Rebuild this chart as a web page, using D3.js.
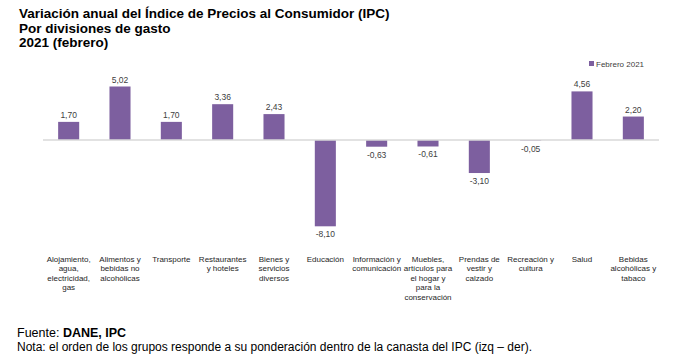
<!DOCTYPE html>
<html>
<head>
<meta charset="utf-8">
<script src="https://cdn.jsdelivr.net/npm/d3@7"></script>
<style>
body { margin: 0; background: #fff; }
text { font-family: "Liberation Sans", Arial, sans-serif; }
</style>
</head>
<body>
<svg id="chart" width="689" height="363"></svg>
<script>
// datos
var categories = [
  ["Alojamiento,", "agua,", "electricidad,", "gas"],
  ["Alimentos y", "bebidas no", "alcohólicas"],
  ["Transporte"],
  ["Restaurantes", "y hoteles"],
  ["Bienes y", "servicios", "diversos"],
  ["Educación"],
  ["Información y", "comunicación"],
  ["Muebles,", "artículos para", "el hogar y", "para la", "conservación"],
  ["Prendas de", "vestir y", "calzado"],
  ["Recreación y", "cultura"],
  ["Salud"],
  ["Bebidas", "alcohólicas y", "tabaco"]
];
var values = [1.70, 5.02, 1.70, 3.36, 2.43, -8.10, -0.63, -0.61, -3.10, -0.05, 4.56, 2.20];
var seriesName = "Febrero 2021";
var titleLines = ["Variación anual del Índice de Precios al Consumidor (IPC)", "Por divisiones de gasto", "2021 (febrero)"];

var color = "#7D5F9F";
var svg = d3.select("#chart");
var fmt = function(v) { return d3.format(".2f")(v).replace(".", ",").replace("\u2212", "-"); };

// titulo
svg.append("g").selectAll("text")
  .data(titleLines)
  .enter().append("text")
  .attr("x", 19)
  .attr("y", function(d, i) { return 18 + i * 14.5; })
  .style("font-size", "13.5px")
  .style("font-weight", "bold")
  .attr("fill", "#000")
  .text(function(d) { return d; });

var x = d3.scaleBand()
  .domain(d3.range(values.length))
  .range([43, 659])
  .paddingInner(0.59)
  .paddingOuter(0.295);

// y: 0 at 140, ~10.65 px per unit
var y = d3.scaleLinear()
  .domain([-8.1, 5.02])
  .range([226.3, 86.5]);

var g = svg.append("g");

g.selectAll(".bar")
  .data(values)
  .enter().append("rect")
  .attr("class", "bar")
  .attr("x", function(d, i) { return x(i); })
  .attr("y", function(d) { return y(Math.max(0, d)); })
  .attr("width", x.bandwidth())
  .attr("height", function(d) { return Math.abs(y(d) - y(0)); })
  .attr("fill", color);

// linea cero
g.append("line")
  .attr("x1", 43).attr("x2", 659)
  .attr("y1", y(0)).attr("y2", y(0))
  .attr("stroke", "#d9d9d9")
  .attr("stroke-width", 1.5);

// etiquetas de valor
g.selectAll(".lbl")
  .data(values)
  .enter().append("text")
  .attr("class", "lbl")
  .attr("x", function(d, i) { return x(i) + x.bandwidth() / 2; })
  .attr("y", function(d) { return d >= 0 ? y(d) - 4 : y(d) + 11; })
  .attr("text-anchor", "middle")
  .style("font-size", "8.5px")
  .attr("fill", "#404040")
  .text(function(d) { return fmt(d); });

// etiquetas de categoria
var cat = g.selectAll(".cat")
  .data(categories)
  .enter().append("text")
  .attr("class", "cat")
  .attr("text-anchor", "middle")
  .style("font-size", "8px")
  .attr("fill", "#262626");

cat.selectAll("tspan")
  .data(function(d, i) { return d.map(function(s) { return {s: s, i: i}; }); })
  .enter().append("tspan")
  .attr("x", function(d) { return x(d.i) + x.bandwidth() / 2; })
  .attr("y", function(d, j) { return 262 + j * 9.4; })
  .text(function(d) { return d.s; });

// leyenda
svg.append("rect")
  .attr("x", 589).attr("y", 61)
  .attr("width", 5).attr("height", 5)
  .attr("fill", color);
svg.append("text")
  .attr("x", 596).attr("y", 66.5)
  .style("font-size", "8px")
  .attr("fill", "#404040")
  .text(seriesName);

// fuente y nota
var f = svg.append("text")
  .attr("x", 17).attr("y", 337)
  .style("font-size", "12.5px")
  .attr("fill", "#000");
f.append("tspan").text("Fuente: ");
f.append("tspan").style("font-weight", "bold").text("DANE, IPC");

svg.append("text")
  .attr("x", 17).attr("y", 351)
  .style("font-size", "12px")
  .attr("fill", "#000")
  .text("Nota: el orden de los grupos responde a su ponderación dentro de la canasta del IPC (izq – der).");
</script>
</body>
</html>
